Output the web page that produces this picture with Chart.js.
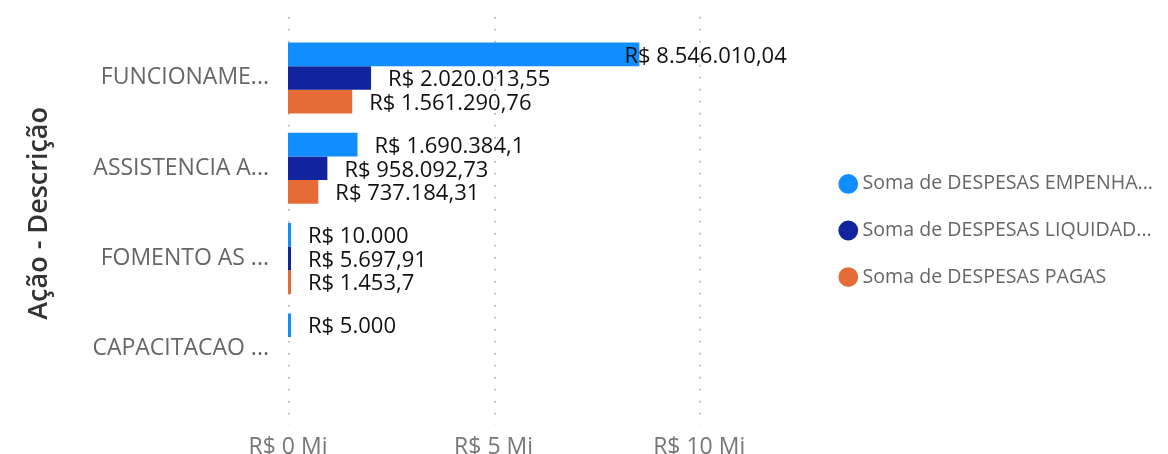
<!DOCTYPE html>
<html>
<head>
<meta charset="utf-8">
<script src="https://cdn.jsdelivr.net/npm/chart.js@4/dist/chart.umd.min.js"></script>
<style>
  html,body{margin:0;background:#fff}
  #wrap{position:relative;width:1168px;height:454px}
</style>
</head>
<body>
<div id="wrap"><canvas id="c"></canvas></div>
<script>
/* grouped horizontal bars — despesas por ação */
const CATEGORIES = ['FUNCIONAME...', 'ASSISTENCIA A...', 'FOMENTO AS ...', 'CAPACITACAO ...'];
const SERIES_NAMES = ['Soma de DESPESAS EMPENHA...', 'Soma de DESPESAS LIQUIDAD...', 'Soma de DESPESAS PAGAS'];
const EMPENHADAS = [8546010.04, 1690384.1, 10000, 5000];
const LIQUIDADAS = [2020013.55, 958092.73, 5697.91, null];
const PAGAS = [1561290.76, 737184.31, 1453.7, null];
const X_TICKS = [0, 5e6, 10e6];
const X_MAX = 12.86e6;
const COLORS = ['#118DFF', '#12239E', '#E66C37'];

Chart.defaults.font.family = '"Open Sans", "Noto Sans", sans-serif';

// pt-BR money, trailing zeros dropped
function brl(v){
  let [i, d] = (Math.round(v*100)/100).toFixed(2).split('.');
  i = i.replace(/\B(?=(\d{3})+(?!\d))/g, '.');
  d = d.replace(/0+$/, '');
  return 'R$ ' + i + (d ? ',' + d : '');
}

const dottedGrid = {
  id: 'dottedGrid',
  beforeDatasetsDraw(chart){
    const {ctx, chartArea: a, scales: {x}} = chart;
    ctx.save();
    ctx.strokeStyle = '#C8C6C4'; ctx.lineWidth = 2; ctx.setLineDash([2, 10]);
    x.ticks.forEach(t => {
      const px = Math.round(x.getPixelForValue(t.value)) + 1;
      ctx.beginPath(); ctx.moveTo(px, a.top - 16); ctx.lineTo(px, a.bottom + 31); ctx.stroke();
    });
    ctx.restore();
  }
};

const valueLabels = {
  id: 'valueLabels',
  afterDatasetsDraw(chart){
    const {ctx, chartArea: a} = chart;
    ctx.save();
    ctx.font = '22px "Open Sans", sans-serif';
    ctx.fillStyle = '#111'; ctx.textBaseline = 'middle'; ctx.textAlign = 'left';
    chart.data.datasets.forEach((ds, di) => {
      chart.getDatasetMeta(di).data.forEach((bar, i) => {
        const v = ds.data[i]; if (v == null) return;
        const t = brl(v), w = ctx.measureText(t).width;
        let x = bar.x + 17;
        // keep the label inside the plot, like the long first bar
        if (x + w > a.right - 30) x = a.right - 30 - w;
        ctx.fillText(t, x, bar.y + 2);
      });
    });
    ctx.restore();
  }
};

new Chart(document.getElementById('c'), {
  type: 'bar',
  data: {
    labels: CATEGORIES,
    datasets: [EMPENHADAS, LIQUIDADAS, PAGAS].map((d, k) => ({
      label: SERIES_NAMES[k], data: d, backgroundColor: COLORS[k], borderWidth: 0,
      categoryPercentage: 0.785, barPercentage: 1, minBarLength: 3
    }))
  },
  options: {
    indexAxis: 'y',
    responsive: true, maintainAspectRatio: false, animation: false,
    layout: {padding: {top: 7, bottom: 0, left: 0, right: 5}},
    plugins: {
      tooltip: {enabled: false},
      // empty spacer above the plot only, so the legend keeps its own height
      title: {display: true, text: '', fullSize: false, padding: 0, font: {size: 20, lineHeight: 1}},
      legend: {
        position: 'right', align: 'center', maxWidth: 420,
        labels: {usePointStyle: true, pointStyle: 'circle', boxWidth: 9, boxHeight: 14,
                 padding: 27, color: '#666', font: {size: 19.6}}
      }
    },
    scales: {
      x: {
        type: 'linear', min: 0, max: X_MAX,
        grid: {display: false, drawTicks: false}, border: {display: false},
        afterBuildTicks: s => { s.ticks = X_TICKS.map(v => ({value: v})); },
        afterFit: s => { s.height = 60; },
        ticks: {color: '#777', font: {size: 23}, padding: 40, callback: v => 'R$ ' + (v/1e6) + ' Mi'}
      },
      y: {
        grid: {display: false, drawTicks: false}, border: {display: false},
        afterFit: s => { s.width = 288; },
        ticks: {color: '#666', font: {size: 23}, padding: 19},
        title: {display: true, text: 'Ação - Descrição', color: '#333', font: {size: 27, weight: '600'}, padding: {top: 23, bottom: 0}}
      }
    }
  },
  plugins: [dottedGrid, valueLabels]
});
</script>
</body>
</html>
